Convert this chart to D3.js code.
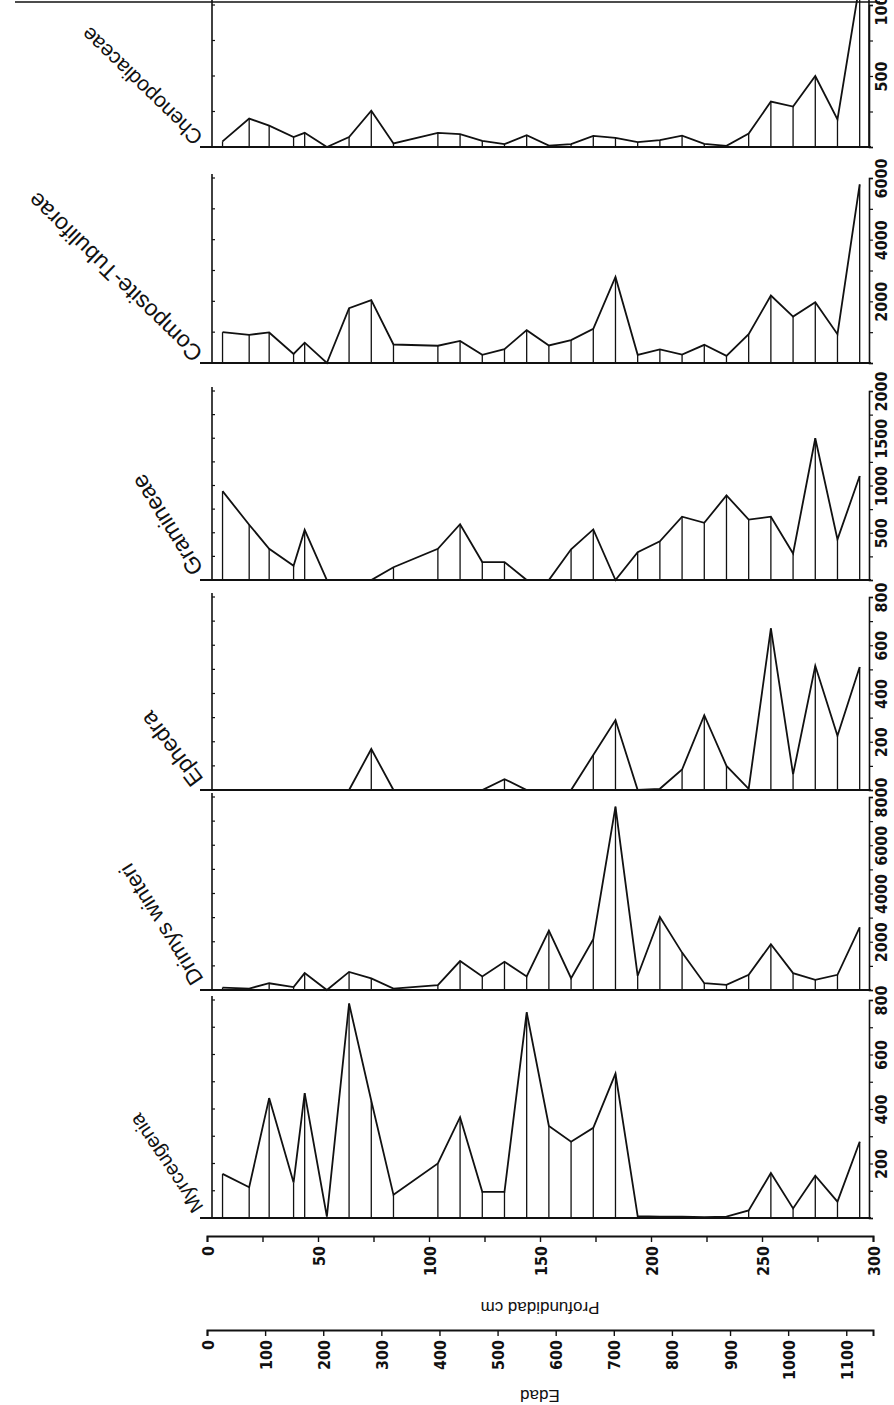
<!DOCTYPE html>
<html>
<head>
<meta charset="utf-8">
<script src="https://cdn.jsdelivr.net/npm/d3@7/dist/d3.min.js"></script>
<style>
  body { margin: 0; background: #fff; }
  text { font-family: "Liberation Sans Narrow", "DejaVu Sans Condensed", "Liberation Sans", sans-serif; fill: #111; }
</style>
</head>
<body>
<svg id="chart" width="894" height="1405"></svg>
<script>
// sample depths (cm)
var depths = [7, 19, 28, 39, 44, 54, 64, 74, 84, 104, 114, 124, 134, 144, 154, 164, 174, 184, 194, 204, 214, 224, 234, 244, 254, 264, 274, 284, 294];

// pollen values per taxon, one per depth
var myrceugenia = [162, 113, 440, 130, 458, 5, 787, 430, 85, 200, 370, 96, 96, 755, 338, 280, 331, 530, 7, 5, 5, 3, 5, 28, 165, 35, 155, 60, 280];
var drimys = [100, 60, 280, 120, 700, 0, 750, 480, 60, 200, 1200, 560, 1170, 560, 2460, 490, 2110, 7600, 590, 3030, 1550, 280, 210, 630, 1900, 700, 420, 630, 2600];
var ephedra = [0, 0, 0, 0, 0, 0, 0, 170, 0, 0, 0, 0, 45, 0, 0, 0, 145, 290, 0, 5, 85, 310, 100, 5, 670, 65, 515, 225, 510];
var gramineae = [940, 585, 330, 150, 530, 0, 0, 0, 135, 330, 590, 190, 190, 0, 0, 325, 535, 0, 295, 410, 670, 605, 895, 640, 670, 280, 1500, 430, 1100];
var composite = [1000, 915, 990, 295, 660, 0, 1780, 2040, 600, 560, 715, 265, 450, 1065, 570, 745, 1105, 2790, 265, 440, 275, 590, 230, 935, 2190, 1505, 1970, 935, 5790];
var cheno = [40, 200, 150, 70, 100, 0, 70, 255, 25, 100, 90, 43, 20, 83, 10, 20, 78, 65, 35, 48, 80, 22, 8, 95, 320, 285, 500, 195, 1150];

// taxa from bottom to top
var taxa = ["Myrceugenia", "Drimys winteri", "Ephedra", "Gramineae", "Composite-Tubuliforae", "Chenopodiaceae"];
var taxaValues = [myrceugenia, drimys, ephedra, gramineae, composite, cheno];
var axisMax = [800, 8000, 800, 2000, 6000, 1000];
var majorStep = [200, 2000, 200, 500, 2000, 500];
var minorStep = [100, 1000, 100, 250, 1000, 250];

// axis ticks
var depthTicks = d3.range(0, 301, 25);
var edadTicks = [0, 100, 200, 300, 400, 500, 600, 700, 800, 900, 1000, 1100];

// layout (pixels)
var panelBase = [1218, 990, 790, 580, 363, 147];
var panelTop = [1000, 797, 597, 391, 178, 5];
var labelAngle = [-124, -122, -127, -122, -136, -136];
var labelSize = [20, 22, 23, 23, 23, 21];
var leftAxisX = 212, rightAxisX = 869;

var svg = d3.select("#chart");
svg.append("rect").attr("width", 894).attr("height", 1405).attr("fill", "#fff");

var x = d3.scaleLinear().domain([0, 300]).range([207, 873]);
var xEdad = d3.scaleLinear().domain([0, 1146]).range([207, 873]);

// scan frame line at the top
svg.append("line")
    .attr("x1", 15).attr("x2", 880).attr("y1", 2).attr("y2", 2)
    .attr("stroke", "#111").attr("stroke-width", 1.5);

taxa.forEach(function (name, i) {
    var vals = taxaValues[i];
    var y = d3.scaleLinear().domain([0, axisMax[i]]).range([panelBase[i], panelTop[i]]);
    var g = svg.append("g").attr("class", "panel");
    var minor = d3.range(0, axisMax[i] + 1, minorStep[i]);
    var isTop = i == taxa.length - 1;

    // vertical lines at each sample
    g.selectAll("line.sample")
        .data(depths)
        .enter().append("line")
        .attr("class", "sample")
        .attr("x1", function (d) { return x(d); })
        .attr("x2", function (d) { return x(d); })
        .attr("y1", panelBase[i])
        .attr("y2", function (d, j) { return y(vals[j]); })
        .attr("stroke", "#111").attr("stroke-width", 1.3);

    // curve
    var line = d3.line()
        .x(function (d) { return x(d); })
        .y(function (d, j) { return y(vals[j]); });
    g.append("path")
        .attr("d", line(depths))
        .attr("fill", "none")
        .attr("stroke", "#111")
        .attr("stroke-width", 1.8);

    // baseline
    g.append("line")
        .attr("x1", 200).attr("x2", rightAxisX + 2)
        .attr("y1", panelBase[i]).attr("y2", panelBase[i])
        .attr("stroke", "#111").attr("stroke-width", 2.2);

    // left axis with small ticks
    var leftTop = isTop ? 0 : panelTop[i] - 4;
    g.append("line")
        .attr("x1", leftAxisX).attr("x2", leftAxisX)
        .attr("y1", panelBase[i]).attr("y2", leftTop)
        .attr("stroke", "#111").attr("stroke-width", 1.6);
    g.selectAll("line.ltick")
        .data(minor.slice(1))
        .enter().append("line")
        .attr("class", "ltick")
        .attr("x1", leftAxisX).attr("x2", leftAxisX + 3)
        .attr("y1", function (d) { return y(d); })
        .attr("y2", function (d) { return y(d); })
        .attr("stroke", "#111").attr("stroke-width", 1.2);

    // right value axis
    var axis = d3.axisRight(y)
        .tickValues(minor)
        .tickSize(4)
        .tickFormat(function (d) { return d > 0 && d % majorStep[i] == 0 ? String(d) : ""; });
    var ag = g.append("g")
        .attr("transform", "translate(" + rightAxisX + ",0)")
        .call(axis);
    ag.select(".domain").attr("stroke", "#111").attr("stroke-width", 1.6);
    ag.selectAll(".tick line").attr("stroke", "#111").attr("stroke-width", 1.2);
    ag.selectAll(".tick text")
        .attr("x", 0).attr("dy", null)
        .attr("transform", "translate(18,0) rotate(-90)")
        .attr("text-anchor", "middle")
        .style("font-size", "16px")
        .style("font-weight", "bold");
    if (isTop) {
        // top panel axis runs off the page
        g.append("line")
            .attr("x1", rightAxisX).attr("x2", rightAxisX)
            .attr("y1", panelBase[i]).attr("y2", 0)
            .attr("stroke", "#111").attr("stroke-width", 1.6);
    }

    // taxon name
    svg.append("text")
        .attr("transform", "translate(204," + (panelBase[i] - 11) + ") rotate(" + labelAngle[i] + ")")
        .attr("text-anchor", "start")
        .style("font-family", "'Liberation Sans', Arial, sans-serif")
        .style("font-size", labelSize[i] + "px")
        .text(name);
});

// depth axis
var depthY = 1236;
var depthAxis = d3.axisBottom(x)
    .tickValues(depthTicks)
    .tickSize(6)
    .tickFormat(function (d) { return d % 50 == 0 ? String(d) : ""; });
var dg = svg.append("g").attr("transform", "translate(0," + depthY + ")").call(depthAxis);
dg.select(".domain").attr("stroke", "#111").attr("stroke-width", 2);
dg.selectAll(".tick line").attr("stroke", "#111").attr("stroke-width", 1.4);
dg.selectAll(".tick text")
    .attr("y", 0).attr("dy", null)
    .attr("transform", "translate(6,10) rotate(-90)")
    .attr("text-anchor", "end")
    .style("font-size", "16px")
    .style("font-weight", "bold");

svg.append("text")
    .attr("transform", "translate(540,1302) rotate(180)")
    .attr("text-anchor", "middle")
    .style("font-family", "'Liberation Sans', Arial, sans-serif")
    .style("font-size", "17px")
    .text("Profundidad cm");

// age axis
var edadY = 1330;
var edadAxis = d3.axisBottom(xEdad)
    .tickValues(edadTicks)
    .tickSize(6)
    .tickFormat(function (d) { return String(d); });
var eg = svg.append("g").attr("transform", "translate(0," + edadY + ")").call(edadAxis);
eg.select(".domain").attr("stroke", "#111").attr("stroke-width", 2);
eg.selectAll(".tick line").attr("stroke", "#111").attr("stroke-width", 1.4);
eg.selectAll(".tick text")
    .attr("y", 0).attr("dy", null)
    .attr("transform", "translate(6,10) rotate(-90)")
    .attr("text-anchor", "end")
    .style("font-size", "16px")
    .style("font-weight", "bold");

svg.append("text")
    .attr("transform", "translate(540,1390) rotate(180)")
    .attr("text-anchor", "middle")
    .style("font-family", "'Liberation Sans', Arial, sans-serif")
    .style("font-size", "17px")
    .text("Edad");
</script>
</body>
</html>
